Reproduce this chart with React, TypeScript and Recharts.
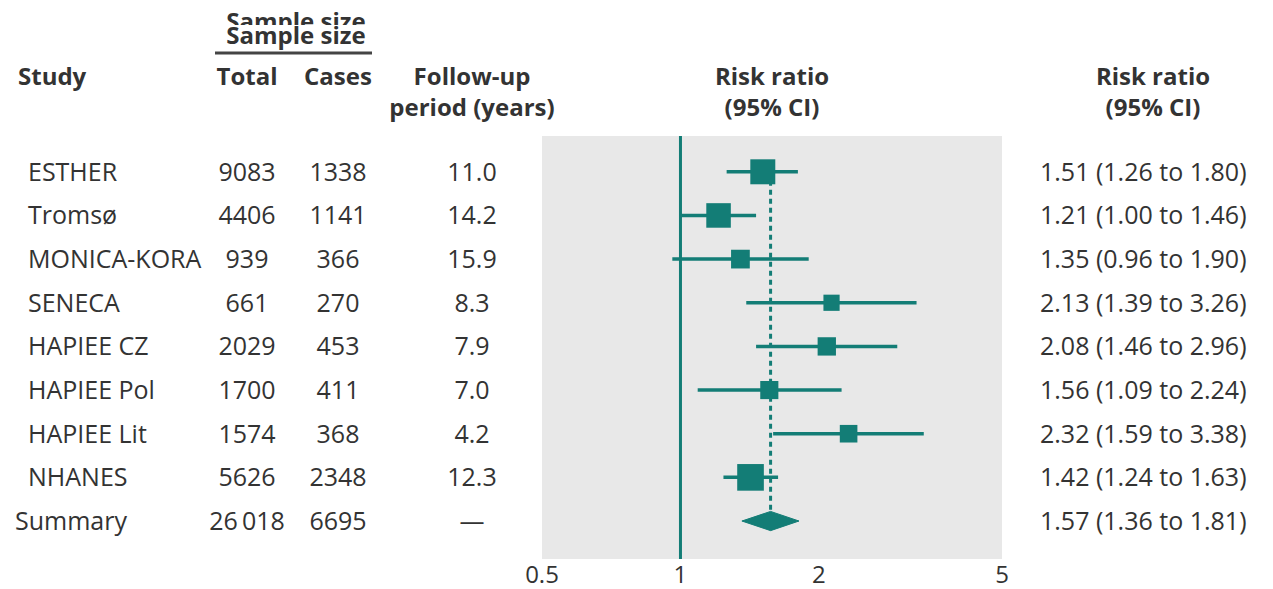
import React from "react";
import {
  ScatterChart, Scatter, XAxis, YAxis, CartesianGrid, ReferenceLine,
} from "recharts";

// study rows, top to bottom
const STUDIES = ["ESTHER", "Tromsø", "MONICA-KORA", "SENECA", "HAPIEE CZ", "HAPIEE Pol", "HAPIEE Lit", "NHANES"];
const TOTALS = ["9083", "4406", "939", "661", "2029", "1700", "1574", "5626"];
const CASES = ["1338", "1141", "366", "270", "453", "411", "368", "2348"];
const FOLLOW_UP = ["11.0", "14.2", "15.9", "8.3", "7.9", "7.0", "4.2", "12.3"];
const RISK_RATIO = [1.51, 1.21, 1.35, 2.13, 2.08, 1.56, 2.32, 1.42];
const CI_LOWER = [1.26, 1.0, 0.96, 1.39, 1.46, 1.09, 1.59, 1.24];
const CI_UPPER = [1.8, 1.46, 1.9, 3.26, 2.96, 2.24, 3.38, 1.63];

// pooled estimate
const SUMMARY_LABEL = "Summary";
const SUMMARY_TOTAL = "26\u2009018";
const SUMMARY_CASES = "6695";
const SUMMARY_FOLLOW_UP = "—";
const SUMMARY_RR = 1.57;
const SUMMARY_LOWER = 1.36;
const SUMMARY_UPPER = 1.81;

const X_TICKS = [0.5, 1, 2, 5];

const TEAL = "#137d76";
const TEXT = "#333333";
const FONT = "'Open Sans', sans-serif";
const FS = 25;

const W = 1273;
const H = 589;
const PLOT_LEFT = 542;
const PLOT_RIGHT = 1002;
const PLOT_TOP = 136;
const PLOT_BOTTOM = 559;

const ROWS = STUDIES.length + 1;
const summaryRow = STUDIES.length;
const studyData = RISK_RATIO.map((rr, i) => ({ rr, row: i, lo: CI_LOWER[i], hi: CI_UPPER[i] }));
const diamondData = [
  { rr: SUMMARY_LOWER, row: summaryRow },
  { rr: SUMMARY_RR, row: summaryRow - 0.22 },
  { rr: SUMMARY_UPPER, row: summaryRow },
  { rr: SUMMARY_RR, row: summaryRow + 0.22 },
  { rr: SUMMARY_LOWER, row: summaryRow },
];

const fmt = (v: number) => v.toFixed(2);

/** square side grows with inverse-variance weight (random effects) */
function SquareShape(props: any) {
  const { cx, cy, payload } = props;
  const se = (Math.log(payload.hi) - Math.log(payload.lo)) / 3.92;
  const w = 1 / (se * se + 0.02);
  const side = 4.2 * Math.sqrt(w);
  return <rect x={cx - side / 2} y={cy - side / 2} width={side} height={side} fill={TEAL} />;
}

/** left table columns + right-hand estimate text, one row per tick */
function RowTick(props: any) {
  const { y, payload } = props;
  const i = payload.value as number;
  const isSummary = i === summaryRow;
  const cells = isSummary
    ? [SUMMARY_LABEL, SUMMARY_TOTAL, SUMMARY_CASES, SUMMARY_FOLLOW_UP]
    : [STUDIES[i], TOTALS[i], CASES[i], FOLLOW_UP[i]];
  const rr = isSummary ? SUMMARY_RR : RISK_RATIO[i];
  const lo = isSummary ? SUMMARY_LOWER : CI_LOWER[i];
  const hi = isSummary ? SUMMARY_UPPER : CI_UPPER[i];
  const common = { y, dy: "0.36em", fontSize: FS, fontFamily: FONT, fill: TEXT };
  return (
    <g>
      <text {...common} x={isSummary ? 15 : 28} textAnchor="start">{cells[0]}</text>
      <text {...common} x={247} textAnchor="middle">{cells[1]}</text>
      <text {...common} x={338} textAnchor="middle">{cells[2]}</text>
      <text {...common} x={472} textAnchor="middle">{cells[3]}</text>
      <text {...common} x={1040} textAnchor="start">{`${fmt(rr)} (${fmt(lo)} to ${fmt(hi)})`}</text>
    </g>
  );
}

function XTick(props: any) {
  const { x, payload } = props;
  return (
    <text x={x} y={583} textAnchor="middle" fontSize={24} fontFamily={FONT} fill={TEXT}>
      {String(payload.value)}
    </text>
  );
}

function Headers() {
  const t = { fontSize: 24, fontFamily: FONT, fontWeight: 700, fill: TEXT };
  return (
    <svg width={W} height={H} style={{ position: "absolute", left: 0, top: 0, pointerEvents: "none" }}>
      <defs>
        <clipPath id="ghostClip">
          <rect x={0} y={0} width={W} height={25} />
        </clipPath>
      </defs>
      {/* doubled header, as in the scan: only the top of the copy shows */}
      <text {...t} x={296} y={30} textAnchor="middle" clipPath="url(#ghostClip)">Sample size</text>
      <text {...t} x={296} y={44} textAnchor="middle">Sample size</text>
      <line x1={215} x2={372} y1={53} y2={53} stroke="#444" strokeWidth={3} />
      <text {...t} x={18} y={85}>Study</text>
      <text {...t} x={247} y={85} textAnchor="middle">Total</text>
      <text {...t} x={338} y={85} textAnchor="middle">Cases</text>
      <text {...t} x={472} y={85} textAnchor="middle">Follow-up</text>
      <text {...t} x={472} y={116} textAnchor="middle">period (years)</text>
      <text {...t} x={772} y={85} textAnchor="middle">Risk ratio</text>
      <text {...t} x={772} y={116} textAnchor="middle">(95% CI)</text>
      <text {...t} x={1153} y={85} textAnchor="middle">Risk ratio</text>
      <text {...t} x={1153} y={116} textAnchor="middle">(95% CI)</text>
    </svg>
  );
}

export default function App() {
  return (
    <div style={{ position: "absolute", left: 0, top: 0, width: W, height: H, background: "#fff" }}>
      <ScatterChart
        width={W}
        height={H}
        margin={{ top: PLOT_TOP, right: W - PLOT_RIGHT, bottom: 0, left: 0 }}
      >
        <CartesianGrid fill="#e8e8e8" horizontal={false} vertical={false} />
        <XAxis
          type="number"
          dataKey="rr"
          scale="log"
          domain={[0.5, 5]}
          ticks={X_TICKS}
          allowDataOverflow
          axisLine={false}
          tickLine={false}
          height={H - PLOT_BOTTOM}
          interval={0}
          tick={<XTick />}
        />
        <YAxis
          type="number"
          dataKey="row"
          domain={[-0.82, ROWS - 1 + 0.87]}
          reversed
          ticks={Array.from({ length: ROWS }, (_, i) => i)}
          interval={0}
          allowDataOverflow
          width={PLOT_LEFT}
          axisLine={false}
          tickLine={false}
          tick={<RowTick />}
        />
        <ReferenceLine x={1} stroke={TEAL} strokeWidth={3} />
        <ReferenceLine
          segment={[{ x: SUMMARY_RR, y: 0 }, { x: SUMMARY_RR, y: summaryRow }]}
          stroke={TEAL}
          strokeWidth={3}
          strokeDasharray="5 4"
        />
        {studyData.map((d) => (
          <ReferenceLine
            key={d.row}
            segment={[{ x: d.lo, y: d.row }, { x: d.hi, y: d.row }]}
            stroke={TEAL}
            strokeWidth={3.5}
          />
        ))}
        <Scatter data={studyData} shape={<SquareShape />} isAnimationActive={false} />
        <Scatter
          data={diamondData}
          shape={() => <g />}
          line={{ stroke: TEAL, fill: TEAL, strokeWidth: 1 }}
          isAnimationActive={false}
        />
      </ScatterChart>
      <Headers />
    </div>
  );
}
